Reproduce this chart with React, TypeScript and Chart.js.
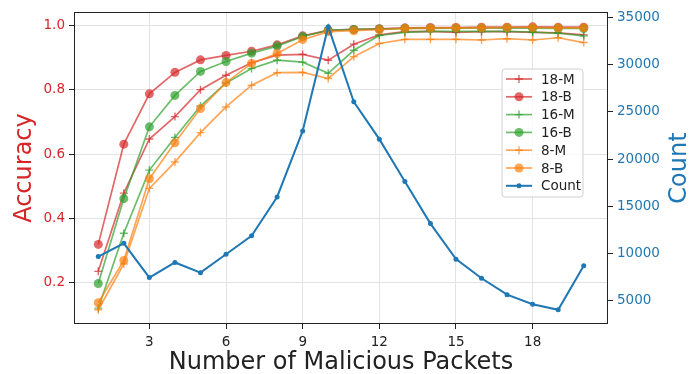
import React, { useEffect, useRef } from "react";
import { Chart, registerables } from "chart.js";

Chart.register(...registerables);

const packets = [1, 2, 3, 4, 5, 6, 7, 8, 9, 10, 11, 12, 13, 14, 15, 16, 17, 18, 19, 20];
const acc18M = [0.234, 0.478, 0.647, 0.717, 0.801, 0.846, 0.885, 0.909, 0.911, 0.893, 0.943, 0.972, 0.982, 0.983, 0.98, 0.982, 0.982, 0.98, 0.978, 0.972];
const acc18B = [0.318, 0.631, 0.788, 0.855, 0.894, 0.908, 0.921, 0.941, 0.969, 0.986, 0.989, 0.991, 0.994, 0.995, 0.995, 0.996, 0.996, 0.997, 0.996, 0.996];
const acc16M = [0.119, 0.353, 0.55, 0.652, 0.75, 0.822, 0.867, 0.893, 0.887, 0.852, 0.924, 0.97, 0.98, 0.983, 0.983, 0.983, 0.983, 0.981, 0.977, 0.969];
const acc16B = [0.196, 0.461, 0.685, 0.783, 0.858, 0.889, 0.915, 0.937, 0.967, 0.986, 0.989, 0.99, 0.992, 0.992, 0.993, 0.993, 0.993, 0.993, 0.992, 0.992];
const acc8M = [0.114, 0.257, 0.493, 0.575, 0.667, 0.747, 0.815, 0.854, 0.855, 0.836, 0.904, 0.945, 0.958, 0.958, 0.958, 0.956, 0.96, 0.956, 0.963, 0.948];
const acc8B = [0.136, 0.268, 0.523, 0.635, 0.742, 0.823, 0.883, 0.914, 0.957, 0.982, 0.985, 0.988, 0.992, 0.993, 0.994, 0.994, 0.995, 0.995, 0.994, 0.994];
const counts = [9700, 11100, 7470, 9070, 7990, 9940, 11890, 16000, 22990, 34020, 26080, 22120, 17630, 13180, 9420, 7400, 5660, 4650, 4060, 8720];

const xTicks = [3, 6, 9, 12, 15, 18];
const accTicks = [0.2, 0.4, 0.6, 0.8, 1.0];
const countTicks = [5000, 10000, 15000, 20000, 25000, 30000, 35000];

const FONT = "DejaVu Sans";
const RED = "#d62728";
const BLUE = "#1f77b4";
const RED_A = "rgba(214,39,40,0.7)";
const GREEN_A = "rgba(44,160,44,0.7)";
const ORANGE_A = "rgba(255,127,14,0.7)";

const pts = (ys: number[]) => packets.map((x, i) => ({ x, y: ys[i] }));
const setTicks = (vals: number[]) => (s: any) => {
  s.ticks = vals.map((value) => ({ value }));
};

function accDataset(label: string, ys: number[], color: string, marker: "cross" | "circle", order: number) {
  return {
    label,
    data: pts(ys),
    yAxisID: "y",
    borderColor: color,
    backgroundColor: color,
    borderWidth: 1.7,
    pointStyle: marker,
    pointRadius: marker === "circle" ? 4.5 : 4,
    pointBorderWidth: marker === "circle" ? 0 : 1.4,
    pointBorderColor: color,
    pointBackgroundColor: color,
    tension: 0,
    order,
  };
}

const legendPlugin = {
  id: "customLegend",
  afterDraw(chart: any) {
    const ctx = chart.ctx;
    const ca = chart.chartArea;
    ctx.save();
    // frame
    ctx.strokeStyle = "#222";
    ctx.lineWidth = 1;
    ctx.strokeRect(Math.round(ca.left) + 0.5, Math.round(ca.top) + 0.5, Math.round(ca.right - ca.left) - 1, Math.round(ca.bottom - ca.top) - 1);
    // right axis title, rotated like matplotlib (reads bottom to top)
    ctx.save();
    ctx.translate(679.5, (ca.top + ca.bottom) / 2);
    ctx.rotate(-Math.PI / 2);
    ctx.fillStyle = BLUE;
    ctx.font = `24px "${FONT}"`;
    ctx.textAlign = "center";
    ctx.textBaseline = "middle";
    ctx.fillText("Count", 0, 0);
    ctx.restore();
    // legend box
    const bx = 502, by = 69, bw = 81, bh = 128, r = 3;
    ctx.beginPath();
    ctx.moveTo(bx + r, by);
    ctx.lineTo(bx + bw - r, by);
    ctx.quadraticCurveTo(bx + bw, by, bx + bw, by + r);
    ctx.lineTo(bx + bw, by + bh - r);
    ctx.quadraticCurveTo(bx + bw, by + bh, bx + bw - r, by + bh);
    ctx.lineTo(bx + r, by + bh);
    ctx.quadraticCurveTo(bx, by + bh, bx, by + bh - r);
    ctx.lineTo(bx, by + r);
    ctx.quadraticCurveTo(bx, by, bx + r, by);
    ctx.closePath();
    ctx.fillStyle = "rgba(255,255,255,0.8)";
    ctx.fill();
    ctx.strokeStyle = "#d0d0d0";
    ctx.lineWidth = 1;
    ctx.stroke();
    chart.data.datasets.forEach((ds: any, k: number) => {
      const y = 79 + k * 17.8;
      ctx.strokeStyle = ds.borderColor;
      ctx.lineWidth = ds.borderWidth;
      ctx.beginPath();
      ctx.moveTo(506, y);
      ctx.lineTo(532, y);
      ctx.stroke();
      const cx = 519;
      if (ds.pointStyle === "cross") {
        ctx.lineWidth = 1.4;
        ctx.beginPath();
        ctx.moveTo(cx - 4, y);
        ctx.lineTo(cx + 4, y);
        ctx.moveTo(cx, y - 4);
        ctx.lineTo(cx, y + 4);
        ctx.stroke();
      } else {
        ctx.fillStyle = ds.pointBackgroundColor;
        ctx.beginPath();
        ctx.arc(cx, y, ds.pointRadius, 0, Math.PI * 2);
        ctx.fill();
      }
      ctx.fillStyle = "#222";
      ctx.font = `13.5px "${FONT}"`;
      ctx.textAlign = "left";
      ctx.textBaseline = "middle";
      ctx.fillText(ds.label, 541, y + 1);
    });
    ctx.restore();
  },
};

export default function App() {
  const ref = useRef<HTMLCanvasElement | null>(null);
  useEffect(() => {
    if (!ref.current) return;
    const chart = new Chart(ref.current, {
      type: "line",
      data: {
        datasets: [
          accDataset("18-M", acc18M, RED_A, "cross", 7),
          accDataset("18-B", acc18B, RED_A, "circle", 6),
          accDataset("16-M", acc16M, GREEN_A, "cross", 5),
          accDataset("16-B", acc16B, GREEN_A, "circle", 4),
          accDataset("8-M", acc8M, ORANGE_A, "cross", 3),
          accDataset("8-B", acc8B, ORANGE_A, "circle", 2),
          {
            label: "Count",
            data: pts(counts),
            yAxisID: "y1",
            borderColor: BLUE,
            backgroundColor: BLUE,
            borderWidth: 2,
            pointStyle: "circle",
            pointRadius: 2.5,
            pointBorderWidth: 0,
            pointBackgroundColor: BLUE,
            tension: 0,
            order: 1,
          } as any,
        ],
      },
      options: {
        animation: false,
        responsive: true,
        maintainAspectRatio: false,
        layout: { padding: { top: 8, left: 0, right: 0, bottom: 0 } },
        plugins: { legend: { display: false }, tooltip: { enabled: false } },
        scales: {
          x: {
            type: "linear",
            min: 0.05,
            max: 20.95,
            afterFit: (s: any) => { s.height = 50; },
            afterBuildTicks: setTicks(xTicks),
            border: { display: false },
            grid: { color: "#e3e3e3", tickColor: "#222", tickLength: 5, lineWidth: 1 },
            ticks: {
              padding: 5,
              color: "#222",
              font: { family: FONT, size: 13.5 },
              callback: (v: any) => String(v),
            },
            title: {
              display: true,
              text: "Number of Malicious Packets",
              color: "#222",
              font: { family: FONT, size: 24, lineHeight: 0.9 },
              padding: { top: 0, bottom: 0 },
            },
          },
          y: {
            type: "linear",
            position: "left",
            min: 0.0696,
            max: 1.0431,
            afterFit: (s: any) => { s.width = 74; },
            afterBuildTicks: setTicks(accTicks),
            border: { display: false },
            grid: { color: "#e3e3e3", tickColor: "#222", tickLength: 5, lineWidth: 1 },
            ticks: {
              padding: 4,
              color: RED,
              font: { family: FONT, size: 13.5 },
              callback: (v: any) => Number(v).toFixed(1),
            },
            title: {
              display: true,
              text: "Accuracy",
              color: RED,
              font: { family: FONT, size: 24, lineHeight: 1.2 },
              padding: { top: 10, bottom: 0 },
            },
          },
          y1: {
            type: "linear",
            position: "right",
            min: 2560,
            max: 35560,
            afterFit: (s: any) => { s.width = 81; },
            afterBuildTicks: setTicks(countTicks),
            border: { display: false },
            grid: { drawOnChartArea: false, color: "#222", tickColor: "#222", tickLength: 5 },
            ticks: {
              padding: 4,
              color: BLUE,
              font: { family: FONT, size: 13.5 },
              callback: (v: any) => String(v),
            },
            title: { display: false },
          },
        },
      } as any,
      plugins: [legendPlugin],
    });
    return () => chart.destroy();
  }, []);
  return (
    <div style={{ position: "fixed", left: 0, top: 0, width: 689, height: 374, background: "#fff" }}>
      <canvas ref={ref} />
    </div>
  );
}
